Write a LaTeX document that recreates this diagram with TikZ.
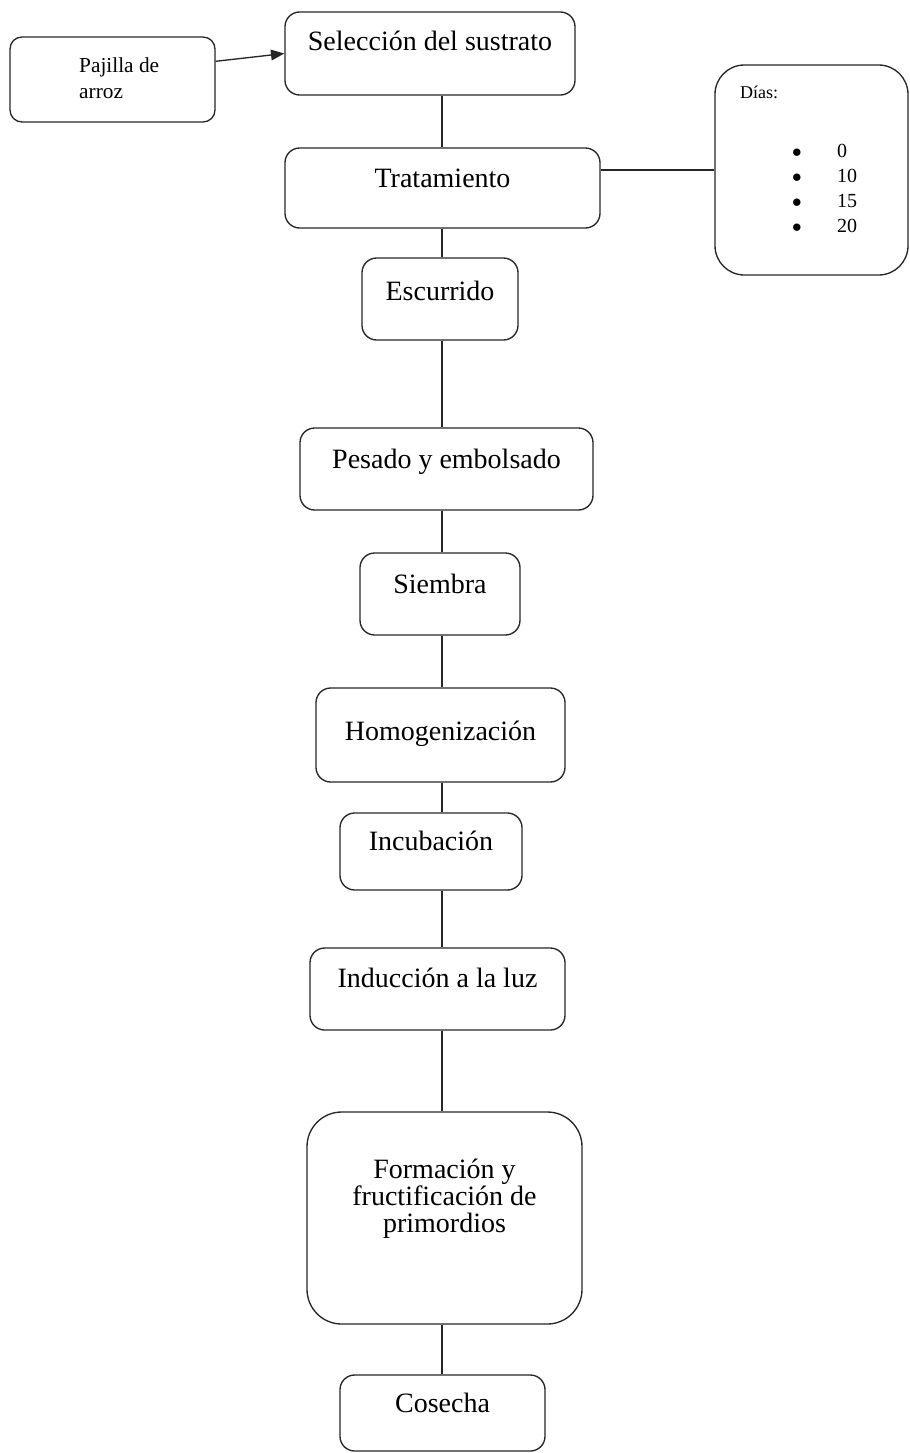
\documentclass[tikz,border=0pt]{standalone}
\usepackage{fontspec}
\setmainfont{Liberation Serif}
\usetikzlibrary{arrows.meta}

\tikzset{
  stepbox/.style={draw=black!85, line width=1pt, rounded corners=11pt, align=center,
    font=\fontsize{21}{20}\selectfont, inner sep=0pt, text height=15pt, text depth=16.5pt},
  link/.style={draw=black!85, line width=1pt}
}
\newcommand{\diaitem}[1]{\hspace*{39pt}\makebox[33.75pt][l]{$\bullet$}#1}

\begin{document}
\begin{tikzpicture}[x=0.75pt, y=-0.75pt]
  \useasboundingbox (0,0) rectangle (910,1453);
  \coordinate (spine) at (442,0);
  \begin{scope}[every node/.style={stepbox}]
    \node[minimum width=153.75pt, minimum height=63.75pt, rounded corners=9pt, align=left,
      font=\fontsize{16}{19.5}\selectfont, text height=31.5pt, text depth=3.75pt] (paj) at (112.5,79.5)
      {\hspace*{10pt}Pajilla de\\\hspace*{10pt}arroz};
    \node[minimum width=217.5pt, minimum height=62.25pt, text depth=20.25pt] (sel) at (430,53.5) {Selección del sustrato};
    \node[minimum width=236.25pt, minimum height=60pt] (trat) at (442.5,188) {Tratamiento};
    \node[text width=107.25pt, inner xsep=18.75pt, minimum height=157.5pt, rounded corners=22pt, align=left,
      font=\fontsize{15}{18.75}\selectfont, text height=11.25pt, text depth=119.25pt] (dias) at (811.5,170)
      {{\fontsize{13.5}{15}\selectfont Días:}\\[25.5pt]
       \diaitem{0}\\ \diaitem{10}\\ \diaitem{15}\\ \diaitem{20}};
    \node[minimum width=117pt, minimum height=61.5pt, text depth=13.5pt] (esc) at (440,299) {Escurrido};
    \node[minimum width=219.75pt, minimum height=61.5pt] (pes) at (446.5,469) {Pesado y embolsado};
    \node[minimum width=120pt, minimum height=61.5pt] (sie) at (440,594) {Siembra};
    \node[minimum width=186.75pt, minimum height=70.5pt, text depth=7.5pt] (hom) at (440.5,735) {Homogenización};
    \node[minimum width=136.5pt, minimum height=57.75pt] (inc) at (431,851.5) {Incubación};
    \node[minimum width=191.25pt, minimum height=61.5pt, text depth=18pt] (ind) at (437.5,989) {Inducción a la luz};
    \node[minimum width=206.25pt, minimum height=159pt, rounded corners=26pt, text height=24.75pt, text depth=3.75pt] (form) at (444.5,1218)
      {Formación y\\fructificación de\\primordios};
    \node[minimum width=153.75pt, minimum height=57pt] (cos) at (442.5,1413) {Cosecha};
  \end{scope}

  % entrada y ramal de los dias
  \draw[link, -{Triangle[length=10pt, width=8pt]}] (paj.10) -- (sel.west);
  \draw[link] (dias.west -| trat.east) -- (dias.west);

  % linea principal
  \draw[link] (sel.south -| spine) -- (trat.north -| spine);
  \draw[link] (trat.south -| spine) -- (esc.north -| spine);
  \draw[link] (esc.south -| spine) -- (pes.north -| spine);
  \draw[link] (pes.south -| spine) -- (sie.north -| spine);
  \draw[link] (sie.south -| spine) -- (hom.north -| spine);
  \draw[link] (hom.south -| spine) -- (inc.north -| spine);
  \draw[link] (inc.south -| spine) -- (ind.north -| spine);
  \draw[link] (ind.south -| spine) -- (form.north -| spine);
  \draw[link] (form.south -| spine) -- (cos.north -| spine);
\end{tikzpicture}
\end{document}
